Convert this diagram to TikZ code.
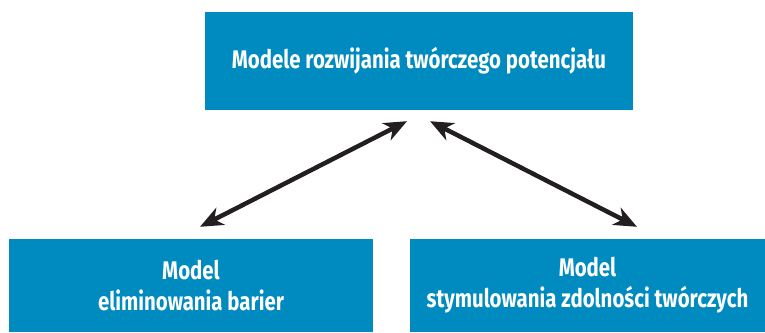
\documentclass[tikz,border=0pt]{standalone}
\usepackage{fontspec}
\setmainfont{Fira Sans}[FakeStretch=0.80]
\usetikzlibrary{arrows.meta}
\definecolor{boxblue}{HTML}{008BC0}
\definecolor{arrowgray}{HTML}{231F20}
\tikzset{
  modelbox/.style={fill=boxblue,text=white,font=\fontsize{25.5}{31}\selectfont\bfseries,align=center,inner sep=0pt},
  twoway/.style={{Stealth[length=23pt,width=19pt,inset=7pt]}-{Stealth[length=23pt,width=19pt,inset=7pt]},line width=4.5pt,draw=arrowgray}
}
\begin{document}
\begin{tikzpicture}[x=1pt,y=1pt]
\useasboundingbox(0,0)rectangle(765,-332);
\node[modelbox,minimum width=428pt,minimum height=98pt](top)at(419,-61){Modele rozwijania twórczego potencjału};
\node[modelbox,minimum width=364pt,minimum height=93pt](bl)at(191,-285.5){Model\\eliminowania barier};
\node[modelbox,minimum width=355pt,minimum height=93pt](br)at(587.5,-285.5){Model\\stymulowania zdolności twórczych};
% arrow ends
\coordinate(tl)at([shift={(-12,-11)}]top.south);
\coordinate(tr)at([shift={(11,-11)}]top.south);
\coordinate(el)at([shift={(9,12)}]bl.north);
\coordinate(er)at([shift={(49.5,12)}]br.north);
\draw[twoway](tl)--(el);
\draw[twoway](tr)--(er);
\end{tikzpicture}
\end{document}
